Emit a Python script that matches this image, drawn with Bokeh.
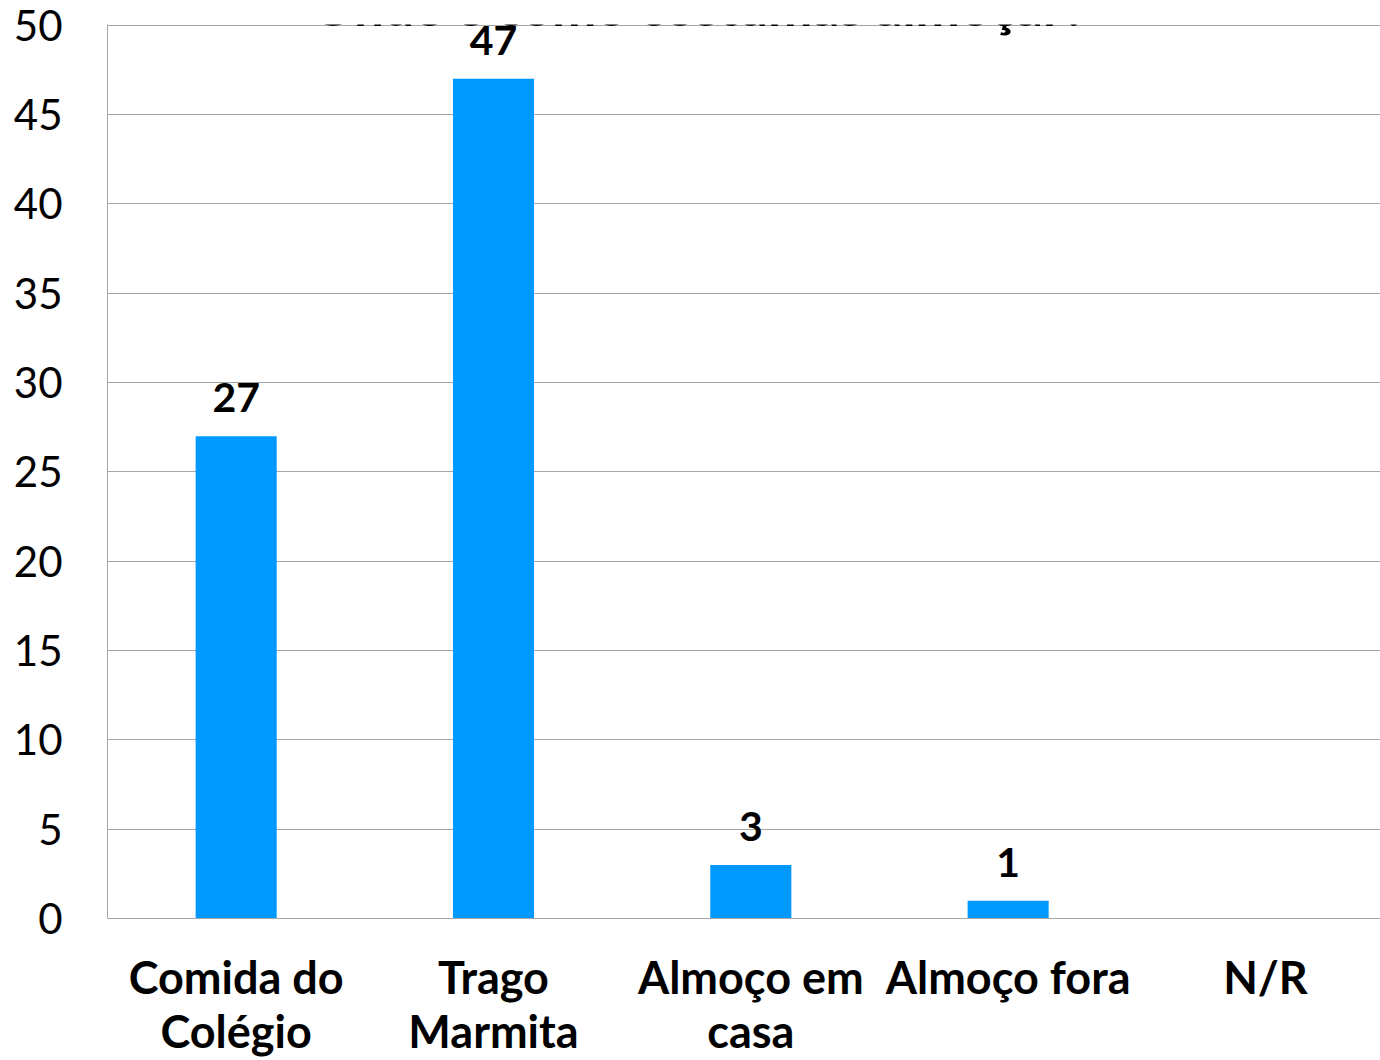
from bokeh.plotting import figure
from bokeh.models import FixedTicker, Range1d, Label
from bokeh.core.properties import value
from bokeh.embed import file_html
from bokeh.resources import INLINE

title = "Onde e como costumas almoçar?"
categories = ["Comida do\nColégio", "Trago\nMarmita", "Almoço em\ncasa", "Almoço fora", "N/R"]
values = [27, 47, 3, 1, 0]
y_ticks = [0, 5, 10, 15, 20, 25, 30, 35, 40, 45, 50]

FONT = "Lato"
BAR = "#0099FF"
GRID = "#A6A6A6"

xs = [i + 0.5 for i in range(len(categories))]

p = figure(width=1380, height=1060, output_backend="svg", toolbar_location=None,
           x_range=Range1d(0, 4.947), y_range=Range1d(0, 50.04),
           min_border_left=107, min_border_top=24, min_border_bottom=140, min_border_right=0)
p.outline_line_color = None
p.background_fill_color = "white"
p.border_fill_color = "white"

p.vbar(x=xs, top=values, width=0.315, color=BAR, line_color=None)

lx = [x for x, v in zip(xs, values) if v > 0]
ly = [v for v in values if v > 0]
p.text(x=lx, y=ly, text=[str(v) for v in ly], text_align="center", text_baseline="bottom",
       y_offset=-24, text_font=value(FONT), text_font_style="bold", text_font_size="41px",
       text_color="black")

p.yaxis.ticker = FixedTicker(ticks=y_ticks)
p.yaxis.major_label_text_font = FONT
p.yaxis.major_label_text_font_size = "42px"
p.yaxis.major_label_text_color = "black"
p.yaxis.major_tick_line_color = None
p.yaxis.minor_tick_line_color = None
p.yaxis.axis_line_color = GRID
p.yaxis.major_label_standoff = 39

p.xaxis.ticker = FixedTicker(ticks=xs)
p.xaxis.major_label_overrides = {x: c for x, c in zip(xs, categories)}
p.xaxis.major_label_text_font = FONT
p.xaxis.major_label_text_font_style = "bold"
p.xaxis.major_label_text_font_size = "45px"
p.xaxis.major_label_text_line_height = 1.0
p.xaxis.major_label_text_color = "black"
p.xaxis.major_tick_line_color = None
p.xaxis.minor_tick_line_color = None
p.xaxis.axis_line_color = GRID
p.xaxis.major_label_standoff = 25

p.xgrid.grid_line_color = None
p.ygrid.ticker = FixedTicker(ticks=y_ticks)
p.ygrid.grid_line_color = GRID
p.ygrid.grid_line_width = 1

p.add_layout(Label(x=2.30, y=50, text=title, text_align="center", text_baseline="alphabetic",
                   y_offset=20, text_font=FONT, text_font_style="bold", text_font_size="53px",
                   text_color="black"))

open("out.html", "w").write(file_html(p, INLINE))
